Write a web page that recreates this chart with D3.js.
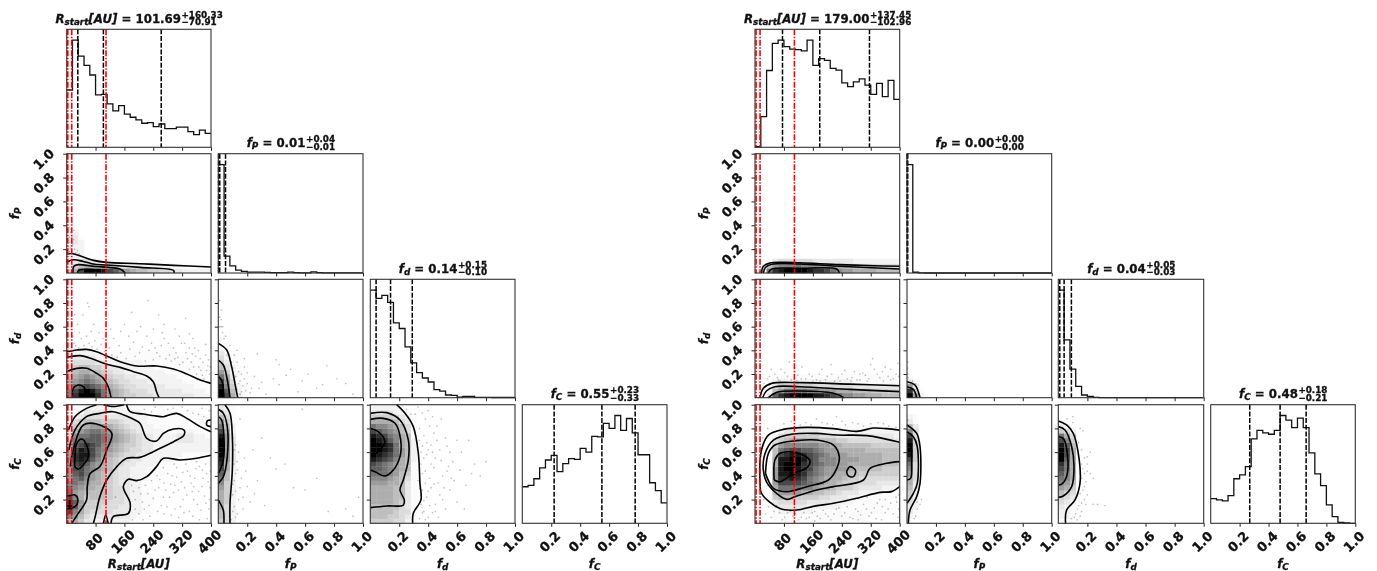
<!DOCTYPE html>
<html><head><meta charset="utf-8">
<style>html,body{margin:0;background:#fff}svg{display:block;filter:blur(0.5px)}text{font-family:"DejaVu Sans";font-weight:bold;fill:#111;stroke:#111;stroke-width:0.3px}</style>
<script src="https://cdn.jsdelivr.net/npm/d3@7/dist/d3.min.js"></script></head><body><svg id="c" width="1377" height="571"></svg>
<script>
// ---------- shared axis content ----------
const rTicks=[80,160,240,320,400];
const fTicks=[0.2,0.4,0.6,0.8,1.0];
const redLines=[3,14,109];
// ---------- left corner: 1-D histograms (bar height, peak = 100) ----------
const histR_L=[53.4,100,85,76.4,67.4,48.8,49.4,40.4,33.9,38.8,31,28,25.5,22.4,23,19.3,21.7,17.4,17.4,18.9,18.9,14.6,11.8,16.1,13];
const histP_L=[100,15.6,6.5,2.7,1.5,0.8,0.8,0.8,0.5,0.4,0.3,0.3,0.8,0.3,0.2,0.2,1,0.3,0.2,0.2,0.2,0.1,0.1,0.1,0.1];
const histD_L=[100,92.2,95,88.5,69.6,64.3,47.2,32.3,23.3,18.3,14.6,7.5,6.2,2.5,2.2,0.6,1.2,1.2,0.3,0.3,0.3,0.2,0.2,0.2,0.2];
const histC_L=[33.9,35.2,41.3,51.4,58.7,63,48,55.4,59.9,59.3,69.4,66,80.7,80.1,92.7,88,100,86.2,97.2,83.8,63.6,63.6,37.6,30.3,19];
// quantiles
const qR_L=[30.78,101.69,262.02], qP_L=[0.002,0.01,0.05], qD_L=[0.04,0.14,0.29], qC_L=[0.22,0.55,0.78];
// ---------- right corner ----------
const histR_R=[0.5,28.6,71.6,96.9,100,93.8,91.6,91,89.8,100,76.4,82.6,81,73.6,72,60,56.5,61,63.7,58,49.4,59.6,47.2,62.4,44.7];
const histP_R=[100,0.7,0.1,0,0,0,0,0,0,0,0,0,0,0,0,0,0,0,0,0,0,0,0,0,0];
const histD_R=[100,53.7,26.5,10.5,2.5,1.2,0.3,0,0,0,0,0,0,0,0,0,0,0,0,0,0,0,0,0,0];
const histC_R=[22.9,21.7,20.8,25.7,41.3,45,52.6,78.3,86.2,83.8,82.6,86.2,100,95.7,88.7,97.6,88.7,65.4,45.9,34.9,17.1,6.1,0.9,0.3,0];
const qR_R=[76.04,179,316.45], qP_R=[0.002,0.003,0.004], qD_R=[0.01,0.04,0.09], qC_R=[0.27,0.48,0.66];
// ---------- titles ----------
const titleValsL=[["101.69","+160.33","\u221270.91"],["0.01","+0.04","\u22120.01"],["0.14","+0.15","\u22120.10"],["0.55","+0.23","\u22120.33"]];
const titleValsR=[["179.00","+137.45","\u2212102.96"],["0.00","+0.00","\u22120.00"],["0.04","+0.05","\u22120.03"],["0.48","+0.18","\u22120.21"]];
const paramNames=[[["R",1],["start",2],["[AU]",1]],[["f",1],["P",2]],[["f",1],["d",2]],[["f",1],["C",2]]];
// ---------- 2-D density, bottom row first, hex grey level per bin ----------
const heatPR_L=["47cfffecb9876655443322222","2567765443333222221111111","1344321111111111100000000","1221","122","122","132","131","12","11","1"];
const heatDR_L=["9dfffda876554443333333222","9cefeca876544433333322221","8abcba9765443333322222111","789a987654433322222211111","6789876544332222222111111","5677665433222222211111111","4566554332222221111111110","3444433222222111111111","2333322221111111111110","1222211111111111111","11111111","1111"];
const heatCR_L=["6753322222211","9864333333321100","c975444433322110","fb85554443322110","fb85555444322110","c975666544322110","a876666544322100","a987766544322110","9a98776543322110","8ab9876543322211","8bca876543322211100","8cca987643322211110","8cdb987654332222111100","8dedb97654433222221111100","8deeca8765443322222211111","7cedca9876544332222222222","6bcdcb9876554332222222222","5abbbba987654332222333222","49aabba987654332222333221","3789aa9876543222211222111","2567888765433221111111111","1456665554332211111111121","1234444333322211111111111","0123333222222111111111","0012222222111111100"];
const heatDP_L=["fc731","fb621","e952","c841","a731","8521","6421","531","421","321","21","11","11"];
const heatCP_L=["542","642","642","742","752","752","752","852","952","a62","b62","c72","d72","e83","f83","f83","f83","f83","e83","c72","a62","851","641","431","321"];
const heatCD_L=["55554421","66655431","66665441","66666431","77776531","77776631","77776631","77776631","88877631","99987641","aaa98651","bba98761","cba98761","edcb9762","fedca862","ffeda862","ffeda762","fedb9762","edca9761","cba98641","a9987641","77776431","55554321","3333221","222221"];
const heatPR_R=["01adeffffeddca98877776666","0168999a99988777665554444","0013444444333333322222222"];
const heatDR_R=["003bdeffffeedcb9988777666","00268aaaa9988877766655544","0013555555444444433333333","0012222222222222211111111","0001111111111111111111111"];
const heatCR_R=["0001111111111111111","00011111111111111111","0011222222111111111111","0012333332222221111111111","0013444443333322211111111","0015666555544333221111111","0016888877665543332222111","0017aaaa99877655543333222","0018ccccba987765544443333","0018ddedca987776554444444","0018eefedba98877665555555","0018effedca98888766666555","0017efffdcba9988777777666","0017eeffecb99988887777666","0016cdeedcba9888777777666","0016abccbba98877777666666","0015899999988776666655555","0014567777766655444444443","0012455555544433333333332","0011233333322222222222222","0001111111111111111111111"];
const heatDP_R=["f82","d51","83","3","1"];
const heatCP_R=["1","21","31","32","42","52","52","63","73","74","84","94","a4","c5","e5","f5","f5","e5","c4","94","63","31","21"];
const heatCD_R=["111","221","221","321","432","543","654","875","986","a97","b97","ca7","da7","fb7","fc7","fc7","eb6","c95","a74","542","32","1"];
// ---------- contours ----------
const contPR_L=[[[0,.159],[18,.162],[46,.134],[74,.106],[111,.089],[203,.078],[296,.064],[400,.05]],[[0,.092],[18,.111],[46,.097],[74,.075],[111,.067],[203,.047],[296,.022],[298,0]],[[17,0],[20,.056],[32,.07],[74,.056],[148,.033],[162,0]],[[30,0],[33,.022],[80,.022],[85,0]]];
const contDR_L=[[[0,.388],[28,.403],[55,.408],[83,.389],[111,.352],[148,.304],[194,.268],[250,.268],[296,.242],[333,.2],[370,.149],[400,.121]],[[0,.341],[37,.355],[74,.324],[111,.282],[148,.256],[185,.22],[222,.183],[240,.135],[249,.051],[256,0]],[[0,.22],[28,.248],[55,.248],[83,.206],[102,.163],[115,.093],[123,0]],[[16,0],[18,.079],[32,.107],[46,.093],[54,.037],[55,0]]];
const contCR_L=[[[5,.787],[23,.899],[55,.969],[83,1]],[[102,1],[129,.985],[159,1]],[[166,1],[176,.941],[213,.921],[249,.904],[268,.899],[305,.927],[333,.885],[370,.815],[400,.772]],[[400,.871],[390,.865],[388,.829],[400,.815]],[[400,.573],[360,.548],[314,.534],[268,.548],[249,.478],[222,.393],[194,.36],[171,.371],[157,.309],[176,.169],[171,.084],[129,.056],[123,0]],[[6,.618],[23,.787],[55,.899],[92,.927],[129,.941],[180,.885],[203,.843],[222,.716],[249,.694],[268,.758],[296,.795],[325,.787],[325,.744],[305,.702],[268,.646],[240,.604],[203,.556],[166,.548],[139,.478],[111,.365],[92,.225],[79,.056],[74,0]],[[102,0],[108,.07],[115,0]],[[10,.478],[18,.618],[46,.829],[83,.837],[125,.758],[111,.618],[92,.478],[65,.42],[57,.309],[55,.197],[32,.084],[14,0]],[[23,.534],[28,.674],[42,.711],[57,.646],[60,.562],[46,.492],[32,.458],[23,.478],[23,.534]],[[0,.225],[23,.239],[31,.197],[23,.14],[0,.126]]];
const contDP_L=[[[0,.459],[.058,.403],[.092,.262],[.115,.121],[.134,0]],[[0,.318],[.035,.276],[.058,.177],[.081,0]],[[0,.177],[.023,.149],[.039,0]]];
const contCP_L=[[[.046,1],[.081,.927],[.097,.73],[.097,.449],[.081,.169],[.081,0]],[[0,.961],[.035,.927],[.062,.815],[.062,.562],[.035,.393],[0,.337]],[[0,.197],[.035,.11],[.039,.056],[.039,0]],[[0,.899],[.023,.871],[.039,.73],[.035,.534],[.012,.449],[0,.42]]];
const contCD_L=[[[.182,1],[.24,.927],[.297,.815],[.332,.59],[.343,.337],[.35,.197],[.297,.084],[.293,0]],[[0,.927],[.113,.933],[.205,.871],[.263,.702],[.263,.534],[.228,.365],[.205,.281],[.235,.197],[.228,.154],[.113,.146],[0,.132]],[[0,.876],[.09,.885],[.171,.843],[.21,.702],[.205,.562],[.159,.449],[.101,.399],[.032,.435],[0,.449]],[[0,.801],[.055,.772],[.101,.688],[.067,.618],[0,.562]]];
const contPR_R=[[[18,0],[23,.056],[41,.084],[78,.089],[124,.086],[235,.07],[327,.061],[400,.056]],[[23,0],[29,.047],[51,.075],[124,.075],[235,.056],[400,.033]],[[37,0],[46,.033],[124,.039],[226,.033],[233,0]]];
const contDR_R=[[[14,0],[23,.079],[46,.121],[124,.127],[263,.115],[400,.101]],[[21,0],[32,.059],[55,.093],[124,.093],[263,.07],[400,.051]],[[37,0],[60,.045],[124,.056],[217,.037],[246,0]]];
const contCR_R=[[[400,.784],[364,.798],[327,.803],[281,.775],[217,.798],[143,.809],[78,.792],[37,.744],[18,.618],[14,.337],[18,.253],[69,.124],[115,.112],[161,.143],[217,.169],[281,.211],[345,.261],[377,.267],[400,.309]],[[400,.683],[309,.739],[226,.744],[171,.758],[106,.753],[51,.702],[28,.59],[23,.449],[37,.323],[88,.202],[111,.225],[171,.281],[217,.309],[300,.365],[318,.463],[364,.506],[400,.52]],[[29,.421],[37,.59],[55,.66],[115,.697],[171,.702],[217,.66],[233,.562],[226,.463],[203,.365],[143,.309],[88,.267],[51,.295],[29,.421]],[[53,.365],[55,.534],[69,.59],[115,.596],[152,.528],[141,.463],[106,.421],[69,.35],[53,.365]],[[253,.435],[263,.478],[278,.444],[272,.393],[258,.399],[253,.435]]];
const contDP_R=[[[0,.135],[.055,.107],[.09,0]],[[0,.093],[.044,.07],[.067,0]]];
const contCP_R=[[[0,.829],[.067,.758],[.09,.646],[.09,.337],[.067,.225],[.021,.112],[.009,0]],[[0,.772],[.044,.73],[.071,.646],[.071,.337],[.044,.253],[0,.169]],[[0,.674],[.025,.646],[.032,.506],[.025,.379],[0,.365]]];
const contCD_R=[[[0,.862],[.057,.829],[.103,.758],[.144,.534],[.149,.337],[.115,.197],[.057,.112],[.05,0]],[[0,.815],[.046,.787],[.092,.646],[.108,.478],[.092,.309],[.034,.23],[0,.219]],[[0,.73],[.034,.716],[.062,.59],[.057,.393],[.023,.331],[0,.323]]];
// ---------- scattered outlying samples, estimated by eye ----------
const ptsPR_L=[[5,.22],[9,.26],[14,.3],[17,.24],[22,.2],[11,.34],[6,.38],[15,.42],[25,.17],[30,.19],[19,.28],[8,.18],[35,.16],[13,.2],[20,.36],[12,.23],[16,.26],[10,.21],[7,.3]];
const ptsDR_L=[[25,.44],[40,.5],[55,.52],[62,.46],[78,.48],[90,.55],[95,.45],[118,.42],[130,.5],[145,.44],[30,.62],[22,.7],[58,.8],[62,.77],[225,.82],[180,.72],[195,.56],[160,.62],[210,.43],[228,.4],[235,.46],[250,.38],[262,.44],[270,.5],[285,.36],[296,.42],[308,.34],[318,.46],[322,.3],[330,.38],[340,.42],[345,.3],[352,.26],[358,.35],[365,.4],[372,.23],[378,.3],[385,.36],[391,.27],[396,.2],[380,.16],[360,.2],[340,.24],[270,.62],[300,.58],[340,.54],[110,.64],[300,.33],[240,.32],[190,.35],[150,.38],[75,.62],[45,.7],[330,.67],[255,.7],
[20,.46],[33,.42],[48,.44],[70,.43],[84,.41],[105,.39],[125,.36],[140,.34],[165,.33],[175,.41],[185,.47],[202,.38],[218,.31],[245,.42],[258,.35],[275,.33],[290,.31],[303,.38],[313,.28],[335,.33],[348,.37],[370,.33],[388,.23],[393,.32],[398,.26],[376,.19],[366,.26],[355,.42],[327,.46],[312,.52],[282,.46],[265,.55],[222,.52],[205,.6],[172,.52],[150,.56],[122,.58],[100,.5],[68,.56],[35,.55],[18,.52],[12,.6],[350,.5],[385,.45],[240,.58]];
const ptsCR_L=[[210,.18],[225,.25],[240,.21],[255,.3],[262,.15],[270,.34],[285,.22],[292,.4],[300,.12],[310,.28],[318,.35],[322,.2],[335,.44],[340,.1],[348,.27],[355,.38],[362,.16],[368,.48],[375,.31],[382,.23],[388,.42],[394,.12],[397,.3],[200,.3],[190,.2],[180,.32],[235,.36],[250,.4],[280,.42],[305,.47],[330,.5],[360,.52],[385,.5],[200,.08],[230,.06],[270,.08],[310,.05],[350,.06],[390,.04],[245,.98],[280,.96],[320,.98],[350,.93],[380,.9],[395,.95],[135,.22],[215,.12],[275,.28],[345,.34],[300,.32],
[205,.25],[218,.32],[228,.15],[245,.28],[258,.37],[268,.22],[278,.14],[288,.33],[296,.26],[305,.39],[315,.14],[327,.3],[333,.24],[342,.4],[352,.2],[358,.46],[366,.27],[372,.11],[378,.38],[386,.17],[392,.35],[398,.44],[190,.12],[185,.27],[243,.45],[268,.47],[298,.5],[322,.43],[352,.31],[376,.45],[395,.2],[252,.1],[290,.07],[325,.09],[368,.03],[212,.03],[182,.03],[295,.97],[335,.95],[365,.92],[300,.93],[375,.97],[215,.96],[235,.94]];
const ptsDP_L=[[.01,.82],[.01,.68],[.02,.6],[.03,.55],[.04,.5],[.02,.74],[.06,.36],[.09,.3],[.1,.25],[.12,.18],[.15,.14],[.17,.1],[.19,.06],[.22,.04],[.14,.22],[.18,.26],[.25,.18],[.28,.08],[.3,.13],[.33,.03],[.38,.16],[.42,.11],[.47,.19],[.5,.24],[.55,.05],[.58,.14],[.62,.2],[.68,.08],[.72,.11],[.75,.27],[.82,.16],[.88,.12],[.93,.03],[.4,.32],[.27,.37],[.18,.33],[.13,.4],[.42,.28],[.01,.6],[.02,.66],[.03,.6],[.05,.52],[.08,.44],[.11,.36],[.13,.3],[.16,.2],[.14,.12],[.16,.05],[.18,.16],[.2,.12],[.13,.07],[.15,.03],[.2,.21],[.23,.08]];
const ptsCP_L=[[.1,.72],[.12,.66],[.14,.6],[.11,.5],[.13,.45],[.16,.38],[.1,.33],[.12,.27],[.14,.2],[.11,.14],[.13,.08],[.09,.03],[.18,.55],[.2,.31],[.22,.18],[.17,.12],[.24,.62],[.27,.36],[.3,.72],[.36,.55],[.4,.46],[.46,.5],[.52,.3],[.6,.28],[.58,.96],[.68,.38],[.76,.1],[.88,.12],[.93,.06],[.97,.22],[.15,.88],[.19,.44],[.25,.25],[.32,.15],[.11,.62],[.12,.42],[.1,.24],[.11,.36],[.13,.52],[.15,.3],[.17,.22],[.1,.1],[.12,.05]];
const ptsCD_L=[[.25,.96],[.28,.92],[.33,.98],[.36,.93],[.4,.95],[.34,.8],[.37,.74],[.41,.82],[.44,.76],[.36,.65],[.39,.58],[.42,.66],[.45,.55],[.48,.62],[.52,.72],[.55,.6],[.35,.5],[.38,.44],[.41,.38],[.44,.47],[.47,.34],[.5,.4],[.36,.28],[.39,.22],[.42,.3],[.45,.16],[.48,.24],[.52,.12],[.55,.28],[.37,.1],[.4,.05],[.43,.09],[.34,.04],[.58,.36],[.62,.45],[.66,.32],[.68,.7],[.72,.5],[.76,.4],[.8,.52],[.6,.18],[.65,.12],[.54,.48],[.33,.36],[.35,.16],[.49,.88],
[.35,.6],[.36,.42],[.37,.55],[.38,.34],[.39,.68],[.4,.27],[.41,.15],[.42,.5],[.43,.6],[.44,.33],[.46,.7],[.47,.05],[.49,.53],[.5,.2],[.51,.3],[.53,.44],[.56,.38],[.35,.24],[.36,.09],[.38,.03],[.4,.62],[.34,.7],[.31,.92],[.38,.88],[.43,.9],[.46,.82],[.53,.65],[.57,.52],[.6,.7],[.63,.6],[.7,.42],[.37,.19],[.45,.1],[.34,.29]];
const ptsDR_R=[[35,.16],[55,.2],[72,.24],[90,.18],[110,.22],[128,.16],[150,.2],[170,.15],[185,.24],[200,.18],[220,.14],[240,.2],[255,.16],[275,.22],[290,.15],[305,.19],[325,.33],[330,.24],[345,.17],[360,.26],[375,.15],[390,.2],[395,.29],[65,.15],[130,.26],[160,.14],[210,.28],[265,.14],[310,.14],[355,.14],[95,.3],[50,.13],[25,.12],[320,.28],[180,.14],[45,.24],[375,.24],[40,.18],[62,.17],[82,.21],[100,.15],[118,.19],[140,.16],[158,.18],[178,.2],[195,.15],[212,.2],[230,.17],[248,.23],[268,.17],[282,.15],[298,.21],[315,.16],[338,.2],[352,.22],[368,.18],[382,.16],[397,.18],[70,.14],[115,.14],[235,.14],[290,.2]];
const ptsCR_R=[[30,.08],[45,.05],[60,.15],[75,.03],[90,.09],[105,.06],[120,.03],[135,.09],[150,.05],[165,.1],[180,.04],[195,.08],[210,.03],[225,.12],[240,.06],[255,.14],[270,.04],[285,.1],[300,.16],[315,.06],[330,.13],[345,.2],[360,.09],[375,.17],[390,.22],[397,.12],[80,.84],[100,.86],[125,.83],[170,.88],[200,.84],[225,.9],[250,.83],[270,.85],[300,.82],[340,.85],[370,.82],[390,.81],[25,.2],[22,.72],[35,.8],[395,.05],[350,.03],[310,.22],[165,.02],
[38,.14],[52,.1],[68,.09],[82,.05],[98,.1],[112,.08],[128,.05],[142,.04],[158,.09],[172,.06],[188,.11],[202,.06],[218,.08],[232,.13],[248,.09],[262,.05],[278,.12],[292,.07],[308,.12],[322,.09],[338,.17],[352,.14],[368,.12],[382,.08],[392,.18],[398,.24],[360,.2],[335,.04],[285,.03],[140,.85],[155,.83],[185,.85],[215,.83],[240,.86],[285,.84],[320,.84],[355,.84]];
const ptsDP_R=[[.005,.3],[.005,.25],[.008,.2],[.01,.17],[.04,.14],[.06,.12]];
const ptsCP_R=[[.09,.16],[.07,.12],[.06,.06],[.05,.04],[.1,.2],[.005,.87],[.07,.18]];
const ptsCD_R=[[.06,.88],[.1,.85],[.15,.8],[.17,.78],[.14,.68],[.16,.62],[.18,.55],[.2,.5],[.17,.46],[.22,.42],[.24,.38],[.19,.35],[.17,.28],[.2,.24],[.24,.16],[.27,.16],[.32,.15],[.14,.15],[.12,.08],[.09,.04],[.16,.1],[.13,.03],[.2,.44],[.1,.9],[.12,.74],[.22,.6],[.15,.33],[.16,.5],[.18,.42],[.16,.38],[.18,.31],[.15,.25],[.18,.2],[.16,.17],[.13,.12],[.11,.05],[.15,.06],[.19,.16],[.15,.42],[.2,.56]];

// ---------- layout of the two triangles ----------
const colsL=[[66.7,211],[218.3,363],[370.3,515],[522.3,667]];
const colsR=[[755,899.7],[907,1051.7],[1058.3,1203.7],[1210.7,1355.3]];
const rows=[[29.3,147.3],[153.7,273],[279.3,397.7],[404.7,523.3]];
const domains=[[0,400],[0,1],[0,1],[0,1]];
const nBins=25;
const svg=d3.select("#c");
const grey=d3.scaleLinear().domain([0,15]).range(["#ffffff","#000000"]).interpolate(()=>t=>d3.interpolateRgb("#ffffff","#000000")(Math.pow(t,1.5)));

function drawMathLabel(sel,parts,size,subSize){
  parts.forEach((p,i)=>{
    const prevSub=i>0&&parts[i-1][1]===2;
    sel.append("tspan").text(p[0]).attr("font-style","italic")
      .attr("font-size",p[1]===2?subSize:size)
      .attr("dy",p[1]===2?size*0.17:(prevSub?-size*0.17:0));
  });
}
function corner(cols,h,q,titleVals,heat,cont,pts){
  cols.forEach((c,i)=>rows.forEach((r,j)=>{
    if(i>j)return;
    const g=svg.append("g");
    const x=d3.scaleLinear().domain(domains[i]).range(c);
    const xt=i===0?rTicks:fTicks;
    const bottom=j===3;
    if(i===j){
      const y=d3.scaleLinear().domain([0,110]).range([r[1],r[0]]);
      const bw=(domains[i][1]-domains[i][0])/nBins;
      const pointsH=h[i].map((v,k)=>[k*bw,v]).concat([[nBins*bw,h[i][nBins-1]]]);
      g.append("path").attr("fill","none").attr("stroke","#111").attr("stroke-width",1.3)
        .attr("d",d3.line().x(d=>x(d[0])).y(d=>y(d[1])).curve(d3.curveStepAfter)(pointsH));
      q[i].forEach(v=>g.append("line").attr("x1",x(v)).attr("x2",x(v)).attr("y1",r[0]).attr("y2",r[1])
        .attr("stroke","#000").attr("stroke-width",1.5).attr("stroke-dasharray","5,1.7"));
    }else{
      const y=d3.scaleLinear().domain([0,1]).range([r[1],r[0]]);
      const key=j+""+i;
      const bx=(domains[i][1]-domains[i][0])/nBins, by=1/nBins;
      heat[key].forEach((row,ry)=>{
        row.slice(0,nBins).split("").forEach((ch,cx)=>{
          const l=parseInt(ch,16);
          if(!l)return;
          g.append("rect").attr("x",x(cx*bx)).attr("y",y((ry+1)*by))
            .attr("width",x((cx+1)*bx)-x(cx*bx)+0.3).attr("height",y(ry*by)-y((ry+1)*by)+0.3)
            .attr("fill",grey(l));
        });
      });
      pts[key].forEach(p=>g.append("circle").attr("cx",x(p[0])).attr("cy",y(p[1])).attr("r",0.85).attr("fill","#000").attr("fill-opacity",0.24));
      const lineGen=d3.line().x(d=>x(d[0])).y(d=>y(d[1])).curve(d3.curveCatmullRom.alpha(0.5));
      cont[key].forEach(ln=>g.append("path").attr("d",lineGen(ln)).attr("fill","none").attr("stroke","#000").attr("stroke-width",1.6));
      const yAxis=d3.axisLeft(y).tickValues(fTicks).tickSize(3.5).tickPadding(0).tickFormat(d3.format(".1f"));
      const ya=g.append("g").attr("transform",`translate(${c[0]},0)`).call(yAxis);
      ya.select(".domain").remove();
      ya.selectAll("line").attr("stroke","#222");
      ya.selectAll("text").remove();
      if(i===0){
        fTicks.forEach(t=>g.append("text").text(t.toFixed(1)).attr("font-size",13)
          .attr("text-anchor","middle").attr("dominant-baseline","central")
          .attr("transform",`translate(${c[0]-23},${y(t)+5.5}) rotate(-45)`));
      }
    }
    if(i===0&&j>0){
      const t=g.append("text").attr("text-anchor","middle")
        .attr("transform",`translate(${c[0]-47.5},${(r[0]+r[1])/2}) rotate(-90)`);
      drawMathLabel(t,paramNames[j],11.8,8.8);
    }
    const xAxis=d3.axisBottom(x).tickValues(xt).tickSize(3.5);
    const xa=g.append("g").attr("transform",`translate(0,${r[1]})`).call(xAxis);
    xa.select(".domain").remove();
    xa.selectAll("line").attr("stroke","#222");
    xa.selectAll("text").remove();
    if(bottom){
      xt.forEach(t=>g.append("text").text(i===0?t:t.toFixed(1)).attr("font-size",13)
        .attr("text-anchor","middle").attr("dominant-baseline","central")
        .attr("transform",`translate(${x(t)-1.3},${r[1]+18.5}) rotate(-45)`));
      const t=g.append("text").attr("text-anchor","middle").attr("x",(c[0]+c[1])/2).attr("y",r[1]+44.2);
      drawMathLabel(t,paramNames[i],11.8,8.8);
    }
    if(i===j){
      const tg=g.append("g");
      const yb=r[0]-6.7;
      const main=tg.append("text").attr("y",yb);
      drawMathLabel(main,paramNames[i],11.8,8.8);
      main.append("tspan").text(" = "+titleVals[i][0]).attr("font-size",11.8).attr("font-style","normal")
        .attr("dy",paramNames[i][paramNames[i].length-1][1]===2?-11.8*0.17:0);
      const w=main.node().getComputedTextLength();
      const sup=tg.append("text").text(titleVals[i][1]).attr("font-size",8.8).attr("x",w+0.5).attr("y",yb-4.6);
      const sub=tg.append("text").text(titleVals[i][2]).attr("font-size",8.8).attr("x",w+0.5).attr("y",yb+2.8);
      const sw=Math.max(sup.node().getComputedTextLength(),sub.node().getComputedTextLength());
      tg.attr("transform",`translate(${(c[0]+c[1])/2-(w+sw)/2},0)`);
    }
    // dash-dot reference lines on the first column
    if(i===0){
      redLines.forEach(v=>g.append("line").attr("x1",x(v)).attr("x2",x(v)).attr("y1",r[0]).attr("y2",r[1])
        .attr("stroke","#ff0000").attr("stroke-width",1.6).attr("stroke-dasharray","6,1.5,1.5,1.5"));
    }
    g.append("rect").attr("x",c[0]).attr("y",r[0]).attr("width",c[1]-c[0]).attr("height",r[1]-r[0])
      .attr("fill","none").attr("stroke","#333").attr("stroke-width",1.1);
  }));
}
corner(colsL,[histR_L,histP_L,histD_L,histC_L],[qR_L,qP_L,qD_L,qC_L],titleValsL,
  {"10":heatPR_L,"20":heatDR_L,"30":heatCR_L,"21":heatDP_L,"31":heatCP_L,"32":heatCD_L},
  {"10":contPR_L,"20":contDR_L,"30":contCR_L,"21":contDP_L,"31":contCP_L,"32":contCD_L},
  {"10":ptsPR_L,"20":ptsDR_L,"30":ptsCR_L,"21":ptsDP_L,"31":ptsCP_L,"32":ptsCD_L});
corner(colsR,[histR_R,histP_R,histD_R,histC_R],[qR_R,qP_R,qD_R,qC_R],titleValsR,
  {"10":heatPR_R,"20":heatDR_R,"30":heatCR_R,"21":heatDP_R,"31":heatCP_R,"32":heatCD_R},
  {"10":contPR_R,"20":contDR_R,"30":contCR_R,"21":contDP_R,"31":contCP_R,"32":contCD_R},
  {"10":[[6,.06]],"20":ptsDR_R,"30":ptsCR_R,"21":ptsDP_R,"31":ptsCP_R,"32":ptsCD_R});
</script></body></html>
